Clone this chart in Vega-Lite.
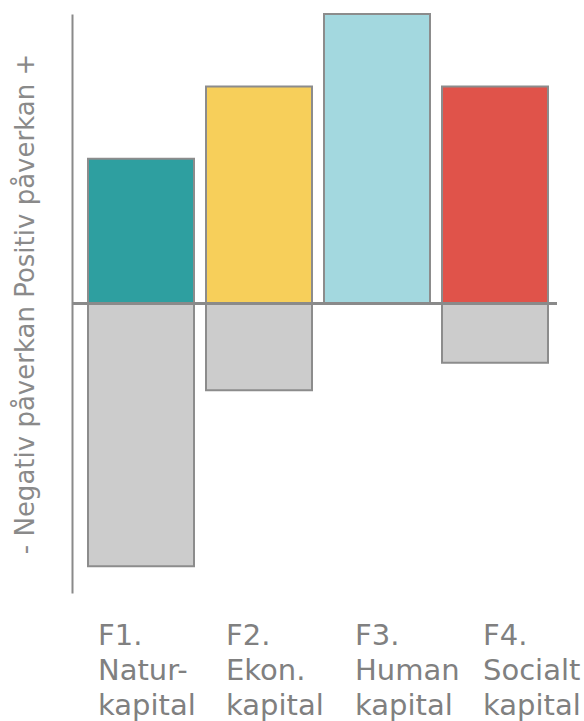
{
  "$schema": "https://vega.github.io/schema/vega-lite/v6.json",
  "width": 485,
  "height": 579,
  "autosize": "none",
  "padding": {"left": 72, "top": 14, "right": 27, "bottom": 128},
  "background": "white",
  "config": {
    "view": {"stroke": null},
    "font": "DejaVu Sans"
  },
  "data": {
    "values": [
      {"kapital": "F1. Natur- kapital", "typ": "F1", "varde": 2.0},
      {"kapital": "F1. Natur- kapital", "typ": "Negativ", "varde": -3.63},
      {"kapital": "F2. Ekon. kapital", "typ": "F2", "varde": 3.0},
      {"kapital": "F2. Ekon. kapital", "typ": "Negativ", "varde": -1.2},
      {"kapital": "F3. Human kapital", "typ": "F3", "varde": 4.0},
      {"kapital": "F4. Socialt kapital", "typ": "F4", "varde": 3.0},
      {"kapital": "F4. Socialt kapital", "typ": "Negativ", "varde": -0.82}
    ]
  },
  "layer": [
    {
      "mark": {"type": "bar", "stroke": "#8c8c8c", "strokeWidth": 2},
      "encoding": {
        "x": {
          "field": "kapital",
          "type": "nominal",
          "sort": null,
          "scale": {"paddingInner": 0.1017, "paddingOuter": 0.106, "align": 0.64},
          "axis": {
            "title": null,
            "domain": false,
            "ticks": false,
            "labelAngle": 0,
            "labelAlign": "left",
            "labelBaseline": "top",
            "labelOffset": {
              "condition": [
                {"test": "datum.value == 'F1. Natur- kapital'", "value": -43},
                {"test": "datum.value == 'F2. Ekon. kapital'", "value": -33},
                {"test": "datum.value == 'F3. Human kapital'", "value": -22}
              ],
              "value": -12
            },
            "labelPadding": 28,
            "labelFontSize": 29,
            "labelLineHeight": 35,
            "labelColor": "#808080",
            "labelFont": "DejaVu Sans",
            "labelBound": false,
            "labelOverlap": false,
            "labelLimit": 0,
            "labelExpr": "split(datum.label, ' ')"
          }
        },
        "y": {
          "field": "varde",
          "type": "quantitative",
          "stack": null,
          "scale": {"domain": [-4, 4], "nice": false, "zero": false},
          "axis": {
            "title": "- Negativ påverkan Positiv påverkan +",
            "titleFontSize": 26,
            "titleFontWeight": "normal",
            "titleColor": "#8a8a8a",
            "titleFont": "DejaVu Sans",
            "titlePadding": 34,
            "domain": true,
            "domainColor": "#8a8a8a",
            "domainWidth": 2,
            "ticks": false,
            "labels": false,
            "grid": false
          }
        },
        "color": {
          "field": "typ",
          "type": "nominal",
          "scale": {
            "domain": ["F1", "F2", "F3", "F4", "Negativ"],
            "range": ["#2e9fa0", "#f7cf5a", "#a3d8df", "#e0534a", "#cccccc"]
          },
          "legend": null
        }
      }
    },
    {
      "mark": {"type": "rule", "color": "#8a8a8a", "strokeWidth": 2},
      "encoding": {"y": {"datum": 0}}
    }
  ]
}
